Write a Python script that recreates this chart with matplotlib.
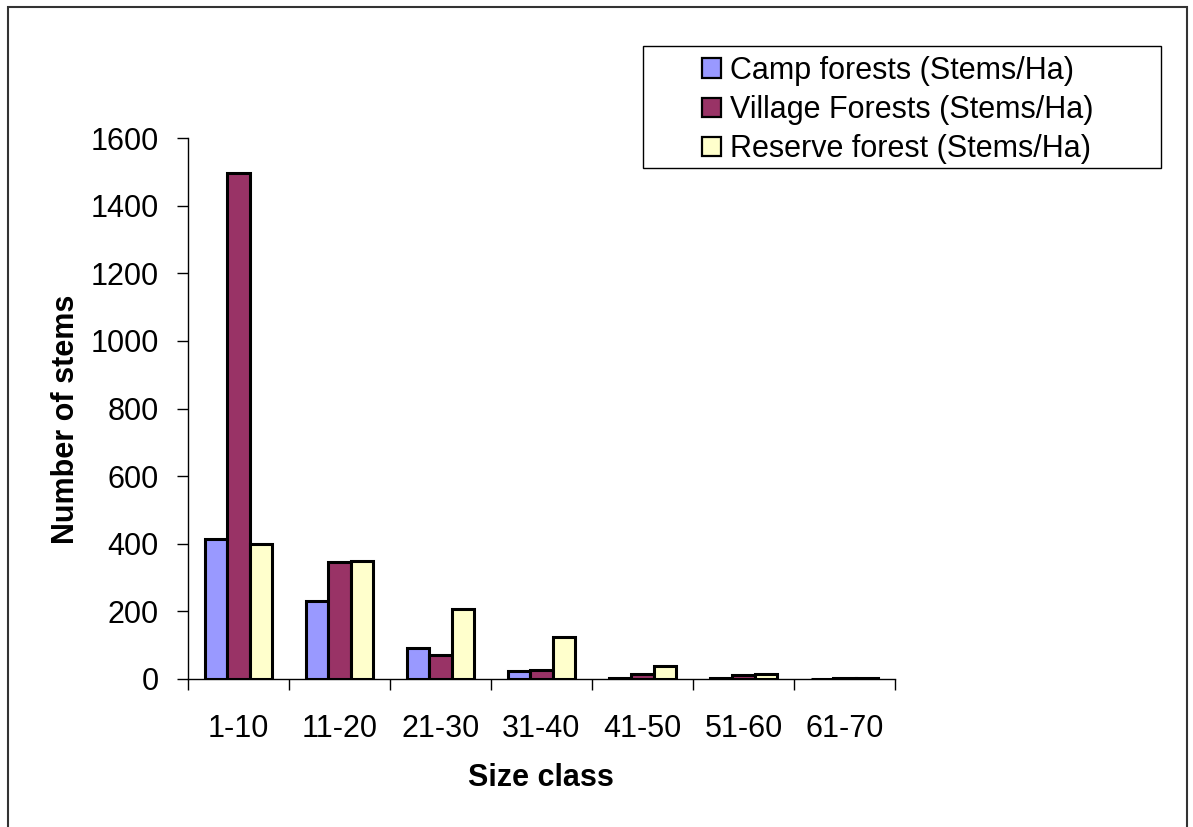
import matplotlib
matplotlib.use("Agg")
import matplotlib.pyplot as plt
from matplotlib.patches import Rectangle
import numpy as np

categories = ["1-10", "11-20", "21-30", "31-40", "41-50", "51-60", "61-70"]
camp = [413, 230, 92, 25, 2, 3, 0]
village = [1497, 347, 72, 28, 15, 11, 4]
reserve = [400, 350, 208, 125, 38, 14, 4]
series_names = ["Camp forests (Stems/Ha)", "Village Forests (Stems/Ha)", "Reserve forest (Stems/Ha)"]
colors = ["#9999FF", "#993366", "#FFFFCC"]

plt.rcParams['font.family'] = ['Liberation Sans', 'DejaVu Sans']
FS = 22

W, H = 1193, 827
fig = plt.figure(figsize=(W / 100, H / 100), dpi=100)
ax = fig.add_axes([188 / W, 1 - 679 / H, (895 - 188) / W, (679 - 138) / H])

n = len(categories)
x = np.arange(n) + 0.5
bw = 1 / 4.5
handles = []
for k, (vals, name, c) in enumerate(zip([camp, village, reserve], series_names, colors)):
    b = ax.bar(x + (k - 1) * bw, vals, width=bw, color=c, edgecolor="black",
               linewidth=2.2, label=name, zorder=3)
    handles.append(b)

ax.set_xlim(0, n)
ax.set_ylim(0, 1600)
ax.set_yticks(np.arange(0, 1601, 200))
ax.tick_params(axis='y', direction='out', length=8, width=1, labelsize=FS, pad=13)
ax.set_xticks(np.arange(0, n + 1))
ax.set_xticklabels([])
ax.tick_params(axis='x', which='major', direction='out', length=8, width=1)
ax.set_xticks(x, minor=True)
ax.set_xticklabels(categories, minor=True)
ax.tick_params(axis='x', which='minor', length=0, labelsize=FS, pad=25)

for s in ['top', 'right']:
    ax.spines[s].set_visible(False)
for s in ['left', 'bottom']:
    ax.spines[s].set_linewidth(1)
    ax.spines[s].set_zorder(4)

fig.text(66 / W, 1 - 419 / H, "Number of stems", rotation=90, ha='center', va='center',
         fontsize=FS, fontweight='bold')
fig.text(541 / W, 1 - 778 / H, "Size class", ha='center', va='center',
         fontsize=FS, fontweight='bold')

# legend box (Excel-style, wider than its entries)
fig.patches.append(Rectangle((643 / W, 1 - 168 / H), (1161 - 643) / W, (168 - 46) / H,
                             transform=fig.transFigure, fill=True, facecolor='white',
                             edgecolor='black', linewidth=1, zorder=5))
leg = fig.legend(handles=handles, labels=series_names, loc='upper left',
                 bbox_to_anchor=(702 / W, 1 - 56 / H), bbox_transform=fig.transFigure,
                 fontsize=FS, frameon=False,
                 handlelength=0.62, handleheight=0.62, handletextpad=0.3,
                 labelspacing=0.3, borderpad=0, borderaxespad=0)
leg.set_zorder(6)
for h in leg.legend_handles:
    h.set_linewidth(1.6)

border = Rectangle((8 / W, -0.02), (1187 - 8) / W, 1 - 7 / H + 0.02, transform=fig.transFigure,
                   fill=False, edgecolor='#333333', linewidth=1.5)
fig.patches.append(border)

fig.savefig("out.png", dpi=100)
